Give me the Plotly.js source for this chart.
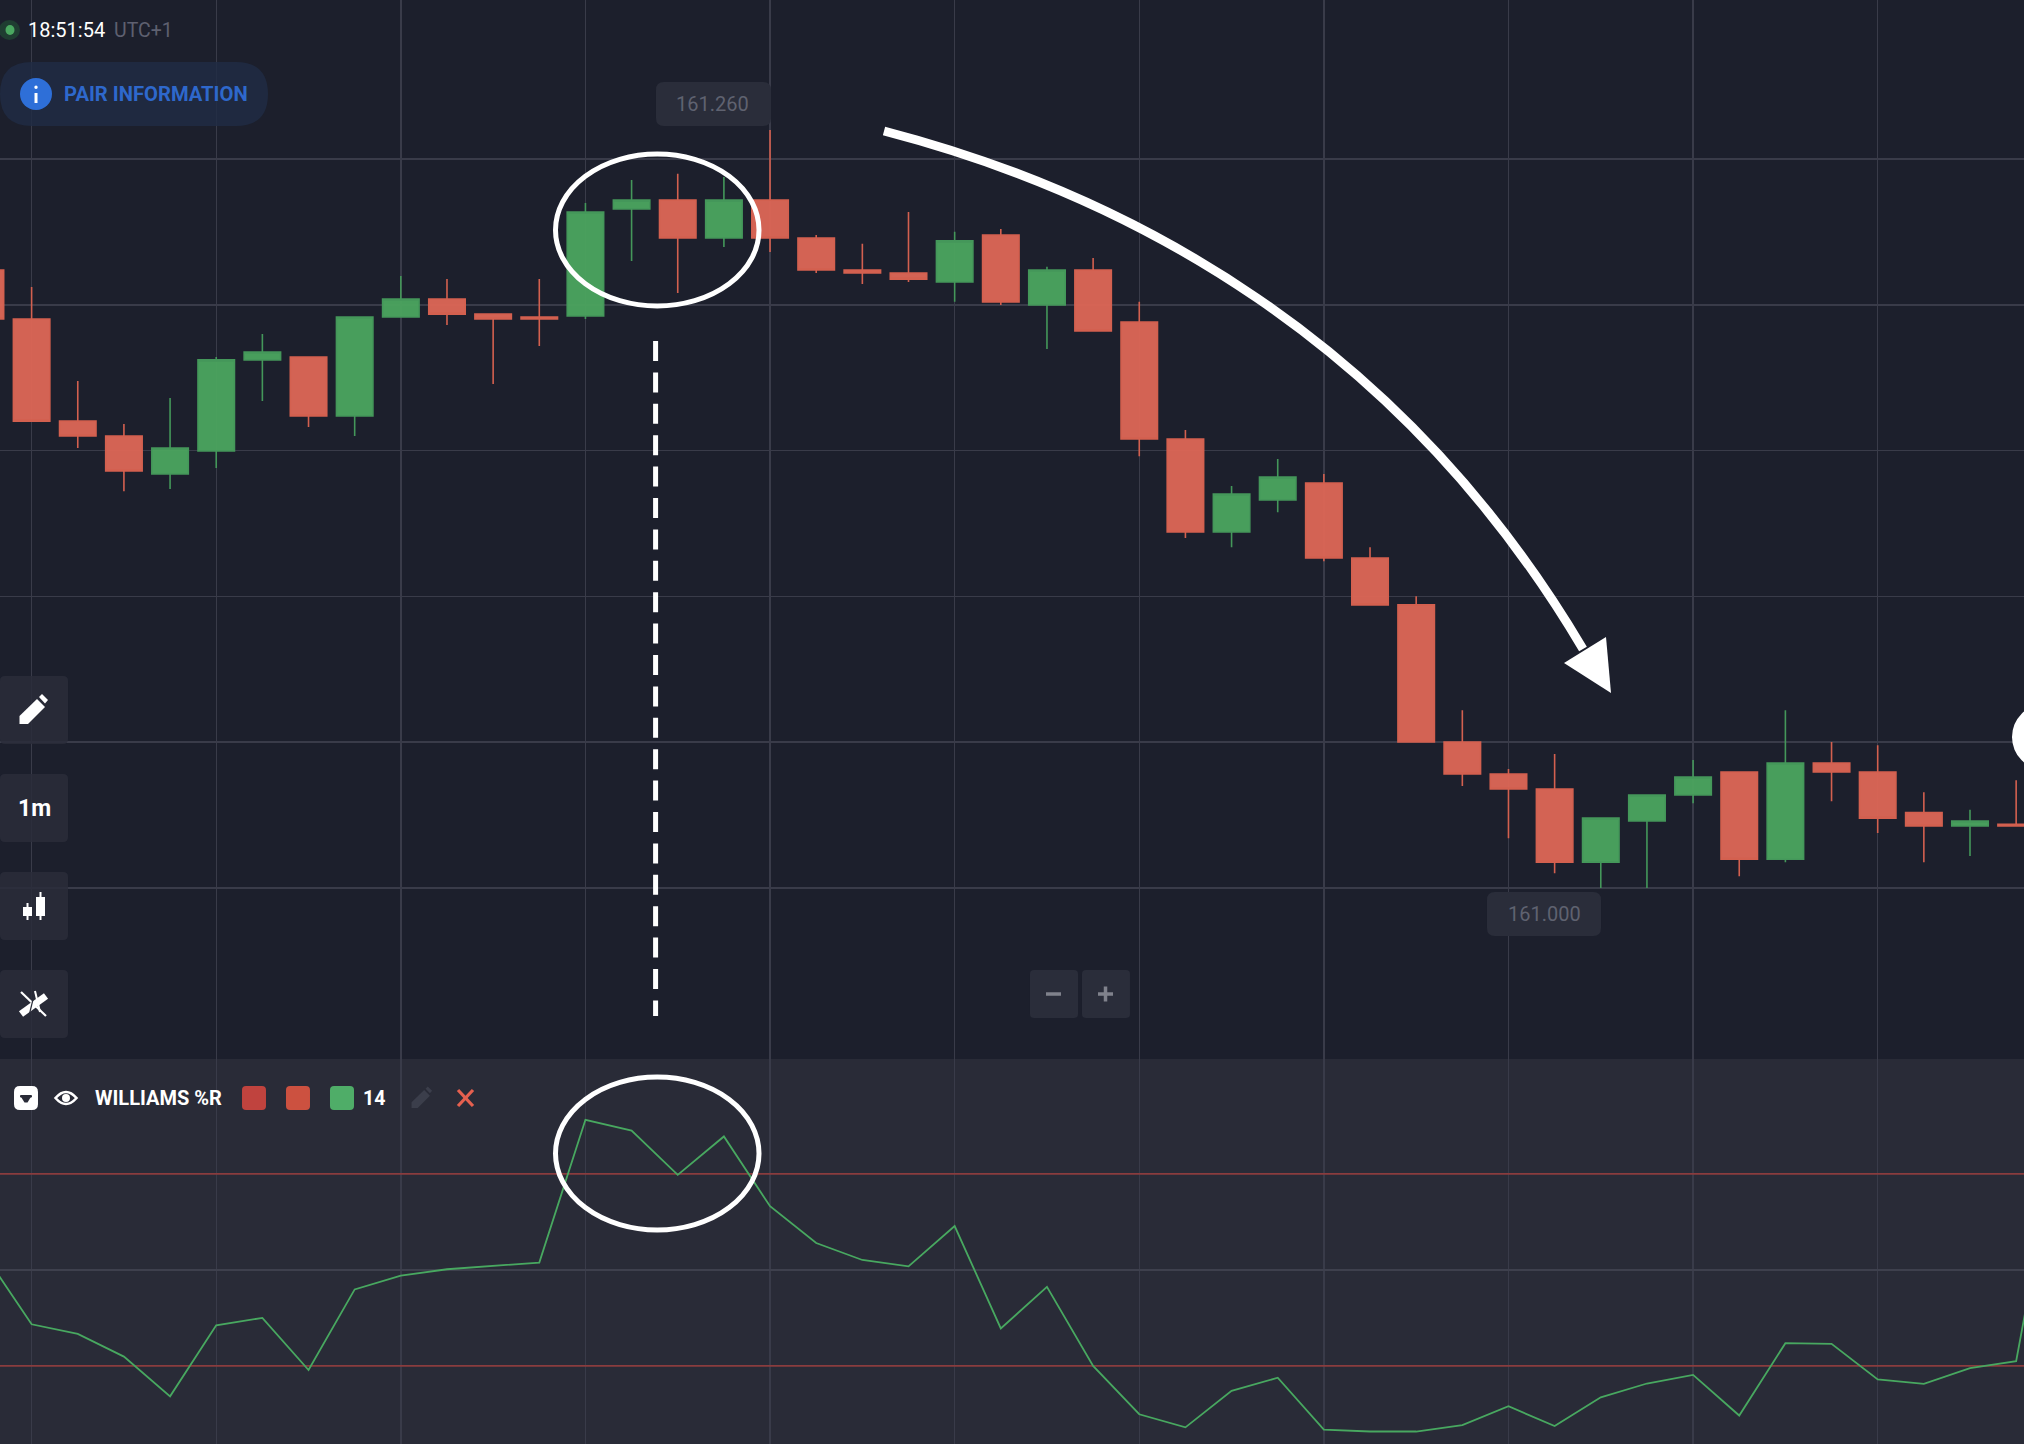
<!DOCTYPE html>
<html>
<head>
<meta charset="utf-8">
<script src="https://cdn.plot.ly/plotly-3.0.1.min.js"></script>
<style>html,body{margin:0;padding:0;background:#1c1f2c;overflow:hidden}#chart{width:2024px;height:1444px}</style>
</head>
<body>
<div id="chart"></div>
<script>
const candleIndex = [-1,0,1,2,3,4,5,6,7,8,9,10,11,12,13,14,15,16,17,18,19,20,21,22,23,24,25,26,27,28,29,30,31,32,33,34,35,36,37,38,39,40,41,42,43];
const opens = [161.2119,161.1951,161.1601,161.1550,161.1420,161.1499,161.1811,161.1821,161.1619,161.1958,161.2020,161.1968,161.1958,161.1962,161.2329,161.2359,161.2229,161.2359,161.2229,161.2119,161.2109,161.2078,161.2239,161.1999,161.2119,161.1941,161.1540,161.1221,161.1331,161.1389,161.1132,161.0971,161.0501,161.0391,161.0340,161.0089,161.0230,161.0319,161.0398,161.0099,161.0429,161.0398,161.0259,161.0213,161.0219];
const highs = [161.2150,161.2061,161.1739,161.1591,161.1680,161.1821,161.1900,161.1821,161.1958,161.2099,161.2088,161.1968,161.2088,161.2349,161.2428,161.2449,161.2438,161.2599,161.2239,161.2209,161.2318,161.2250,161.2260,161.2130,161.2160,161.2010,161.1571,161.1379,161.1471,161.1420,161.1169,161.1001,161.0610,161.0408,161.0460,161.0240,161.0319,161.0439,161.0398,161.0610,161.0501,161.0490,161.0329,161.0269,161.0370];
const lows = [161.1941,161.1601,161.1509,161.1361,161.1368,161.1440,161.1670,161.1581,161.1550,161.1958,161.1931,161.1728,161.1859,161.1951,161.2150,161.2040,161.2198,161.2181,161.2109,161.2071,161.2078,161.2010,161.1999,161.1848,161.1910,161.1481,161.1200,161.1169,161.1289,161.1121,161.0971,161.0501,161.0350,161.0171,161.0051,161.0000,161.0000,161.0291,161.0041,161.0089,161.0298,161.0189,161.0089,161.0110,161.0213];
const closes = [161.1951,161.1601,161.1550,161.1430,161.1509,161.1811,161.1838,161.1619,161.1958,161.2020,161.1968,161.1951,161.1951,161.2318,161.2359,161.2229,161.2359,161.2229,161.2119,161.2109,161.2088,161.2219,161.2010,161.2119,161.1910,161.1540,161.1221,161.1351,161.1409,161.1132,161.0971,161.0501,161.0391,161.0340,161.0089,161.0240,161.0319,161.0381,161.0099,161.0429,161.0398,161.0240,161.0213,161.0230,161.0213];

const williamsIndex = [-1,0,1,2,3,4,5,6,7,8,9,10,11,12,13,14,15,16,17,18,19,20,21,22,23,24,25,26,27,28,29,30,31,32,33,34,35,36,37,38,39,40,41,42,43,44];
const williamsValues = [-45.6,-67.0,-70.0,-77.1,-89.5,-67.3,-65.0,-81.3,-56.1,-51.8,-49.8,-48.7,-47.7,-3.1,-6.5,-20.3,-8.3,-30.1,-41.6,-46.9,-48.9,-36.3,-68.3,-55.3,-80.0,-95.1,-99.2,-87.8,-83.7,-99.9,-100.5,-100.5,-98.5,-92.6,-98.8,-89.8,-85.5,-82.8,-95.5,-72.9,-73.1,-84.2,-85.6,-80.7,-78.5,-1.0];
const levelValues = [-20,-80];
const priceGrid = [161.00,161.05,161.10,161.15,161.20,161.25];
const timeGrid = [0,4,8,12,16,20,24,28,32,36,40];
const williamsGrid = [-50];
const maxLabel = "161.260", minLabel = "161.000";

const W = 2024, H = 1444;
const fx = x => +(x / W).toFixed(5), fy = y => +(1 - y / H).toFixed(5);
const poly = pts => "M" + pts.map(p => fx(p[0]) + "," + fy(p[1])).join("L") + "Z";
const ref = {xref: "paper", yref: "paper"};
const pathShape = (path, fill, stroke, w, layer) => Object.assign({type: "path", path, fillcolor: fill || "rgba(0,0,0,0)", line: {color: stroke || "rgba(0,0,0,0)", width: w || 0}, layer: layer || "above"}, ref);
function rrPath(x0, y0, x1, y1, r) {
  const c = (x, y) => fx(x) + "," + fy(y);
  return "M" + c(x0 + r, y0) + "L" + c(x1 - r, y0) + "Q" + c(x1, y0) + " " + c(x1, y0 + r) + "L" + c(x1, y1 - r) + "Q" + c(x1, y1) + " " + c(x1 - r, y1) + "L" + c(x0 + r, y1) + "Q" + c(x0, y1) + " " + c(x0, y1 - r) + "L" + c(x0, y0 + r) + "Q" + c(x0, y0) + " " + c(x0 + r, y0) + "Z";
}
const rr = (x0, y0, x1, y1, r, fill) => pathShape(rrPath(x0, y0, x1, y1, r), fill);
const oval = (x0, y0, x1, y1, fill, stroke, w) => Object.assign({type: "circle", x0: fx(x0), x1: fx(x1), y0: fy(y1), y1: fy(y0), fillcolor: fill || "rgba(0,0,0,0)", line: {color: stroke || "rgba(0,0,0,0)", width: w || 0}, layer: "above"}, ref);
const seg = (x0, y0, x1, y1, c, w, dash) => Object.assign({type: "line", x0: fx(x0), y0: fy(y0), x1: fx(x1), y1: fy(y1), line: {color: c, width: w, dash: dash || "solid"}, layer: "above"}, ref);
function pencil(cx, cy, s, c) {
  const p = a => a.map(q => [cx + q[0] * s, cy + q[1] * s]);
  return [pathShape(poly(p([[-14.5,14],[-14.5,6],[3,-11],[11,-3],[-6,14]])), c),
          pathShape(poly(p([[5,-13],[8,-16],[14,-10],[11,-6.5]])), c)];
}

const shapes = [
  pathShape(poly([[0,1059],[W,1059],[W,H],[0,H]]), "#292b37", null, 0, "below"),
  // hand-drawn overlays
  oval(555.5,154,759,306,null,"#ffffff",5),
  oval(555.5,1077,759,1230,null,"#ffffff",5),
  seg(655.6,341,655.6,1016,"#ffffff",5,"20px,11.4px"),
  Object.assign({type:"path", path:"M"+fx(884)+","+fy(131)+"C"+fx(1130)+","+fy(195)+" "+fx(1400)+","+fy(340)+" "+fx(1583)+","+fy(649), line:{color:"#ffffff",width:9}, fillcolor:"rgba(0,0,0,0)", layer:"above"}, ref),
  pathShape(poly([[1606,637],[1611,693],[1564,663]]), "#ffffff"),
  oval(2012,704,2078,770,"#ffffff"),
  // pair information pill
  rr(0,62,268,126,32,"rgba(32,44,68,0.82)"),
  oval(20,78,52,110,"#2e6fd8"),
  seg(36,93,36,103,"#ffffff",3),
  oval(34.3,85.5,37.7,88.9,"#ffffff"),
  // clock dot
  oval(-1,20,20,40,"#1f3d31"),
  oval(5.5,25,14.5,35,"#4aa860"),
  // value badges
  rr(656,82,771,126,8,"#2a2d3a"),
  rr(1487,892,1601,936,8,"#2a2d3a"),
  // toolbar
  rr(0,676,68,744,5,"rgba(42,45,58,0.85)"),
  rr(0,774,68,842,5,"rgba(42,45,58,0.85)"),
  rr(0,872,68,940,5,"rgba(42,45,58,0.85)"),
  rr(0,970,68,1038,5,"rgba(42,45,58,0.85)"),
  ...pencil(34,710,1,"#ffffff"),
  seg(27.5,903,27.5,920,"#ffffff",2), pathShape(poly([[23,907],[32,907],[32,916],[23,916]]),"#ffffff"),
  seg(40.5,892,40.5,920,"#ffffff",2), pathShape(poly([[36,897],[45,897],[45,916],[36,916]]),"#ffffff"),
  seg(21,1014,46,996,"#ffffff",7),
  seg(21,992,46,1016,"#ffffff",2.2),
  seg(35,991,29,1016,"#2a2d3a",1.2),
  seg(35,991,40,1012,"#ffffff",2),
  // zoom buttons
  rr(1030,970,1078,1018,4,"#2a2d3a"),
  rr(1082,970,1130,1018,4,"#2a2d3a"),
  seg(1046,994,1061,994,"#80828c",3.5),
  seg(1098,994,1113,994,"#80828c",3.5),
  seg(1105.5,986.5,1105.5,1001.5,"#80828c",3.5),
  // indicator header
  rr(14,1086,38,1110,6,"#ffffff"),
  pathShape(rrPath(20,1095,32,1097.5,1),"#292b37"),
  pathShape(poly([[20.5,1096],[31.5,1096],[27.5,1102.5],[24.5,1102.5]]),"#292b37"),
  pathShape("M"+fx(55.5)+","+fy(1098)+"Q"+fx(66)+","+fy(1086)+" "+fx(76.5)+","+fy(1098)+"Q"+fx(66)+","+fy(1110)+" "+fx(55.5)+","+fy(1098)+"Z",null,"#ffffff",2.6),
  oval(62,1094,70,1102,"#ffffff"),
  rr(242,1086,266,1110,4,"#c0433e"),
  rr(286,1086,310,1110,4,"#cc5140"),
  rr(330,1086,354,1110,4,"#4fad68"),
  ...pencil(422,1098,0.72,"#3b3e4b"),
  seg(458,1090,473,1106,"#e5604f",3.2),
  seg(473,1090,458,1106,"#e5604f",3.2)
];

const note = (text, x, y, size, color, anchor, bold) => ({text: bold ? "<b>" + text + "</b>" : text, x: fx(x), y: fy(y), xref: "paper", yref: "paper", xanchor: anchor || "left", yanchor: "middle", showarrow: false, font: {family: "Roboto", size, color}, borderpad: 0});
const annotations = [
  note("18:51:54", 27, 30, 20, "#ffffff"),
  note("UTC+1", 113, 30, 19.5, "#5e6070"),
  note("PAIR INFORMATION", 63.5, 94, 20.2, "#2e68cc", "left", true),
  note(maxLabel, 713, 104, 20, "#5f6270", "center"),
  note(minLabel, 1544, 914, 20, "#5f6270", "center"),
  note("1m", 34, 808, 23, "#ffffff", "center", true),
  note("WILLIAMS %R", 93.5, 1098, 20, "#ffffff", "left", true),
  note("14", 362, 1098, 19.5, "#ffffff", "left", true)
];

const traces = [
  {type: "candlestick", x: candleIndex, open: opens, high: highs, low: lows, close: closes, xaxis: "x", yaxis: "y", whiskerwidth: 0, hoverinfo: "skip",
   increasing: {line: {color: "#44975a", width: 1.6}, fillcolor: "rgba(74,162,94,0.97)"},
   decreasing: {line: {color: "#d3604f", width: 1.6}, fillcolor: "rgba(218,101,86,0.97)"}},
  {type: "scatter", mode: "lines", x: [candleIndex[0], williamsIndex[williamsIndex.length - 1]], y: [levelValues[0], levelValues[0]], xaxis: "x", yaxis: "y2", line: {color: "#8a3c3e", width: 1.6}, hoverinfo: "skip"},
  {type: "scatter", mode: "lines", x: [candleIndex[0], williamsIndex[williamsIndex.length - 1]], y: [levelValues[1], levelValues[1]], xaxis: "x", yaxis: "y2", line: {color: "#8a3c3e", width: 1.6}, hoverinfo: "skip"},
  {type: "scatter", mode: "lines", x: williamsIndex, y: williamsValues, xaxis: "x", yaxis: "y2", line: {color: "#48a860", width: 1.8}, hoverinfo: "skip"}
];

const layout = {
  width: W, height: H, margin: {l: 0, r: 0, t: 0, b: 0, pad: 0}, autosize: false,
  paper_bgcolor: "#1c1f2c", plot_bgcolor: "rgba(0,0,0,0)", showlegend: false, boxgap: 0.21, boxgroupgap: 0,
  font: {family: "Roboto"},
  xaxis: {range: [-0.685, 43.17], tickvals: timeGrid, showticklabels: false, ticks: "", showgrid: true, gridcolor: "#393b49", gridwidth: 1.4, zeroline: false, showline: false, rangeslider: {visible: false}, anchor: "y2", fixedrange: true},
  yaxis: {domain: [0.26662, 1], range: [160.9414, 161.3045], tickvals: priceGrid, showticklabels: false, ticks: "", showgrid: true, gridcolor: "#393b49", gridwidth: 1.6, zeroline: false, showline: false, anchor: "x", fixedrange: true},
  yaxis2: {domain: [0, 0.26662], range: [-104.4, 15.9], tickvals: williamsGrid, showticklabels: false, ticks: "", showgrid: true, gridcolor: "#3e404d", gridwidth: 1.6, zeroline: false, showline: false, anchor: "x", fixedrange: true},
  shapes, annotations
};
Plotly.newPlot("chart", traces, layout, {displayModeBar: false, staticPlot: true});
</script>
</body>
</html>
